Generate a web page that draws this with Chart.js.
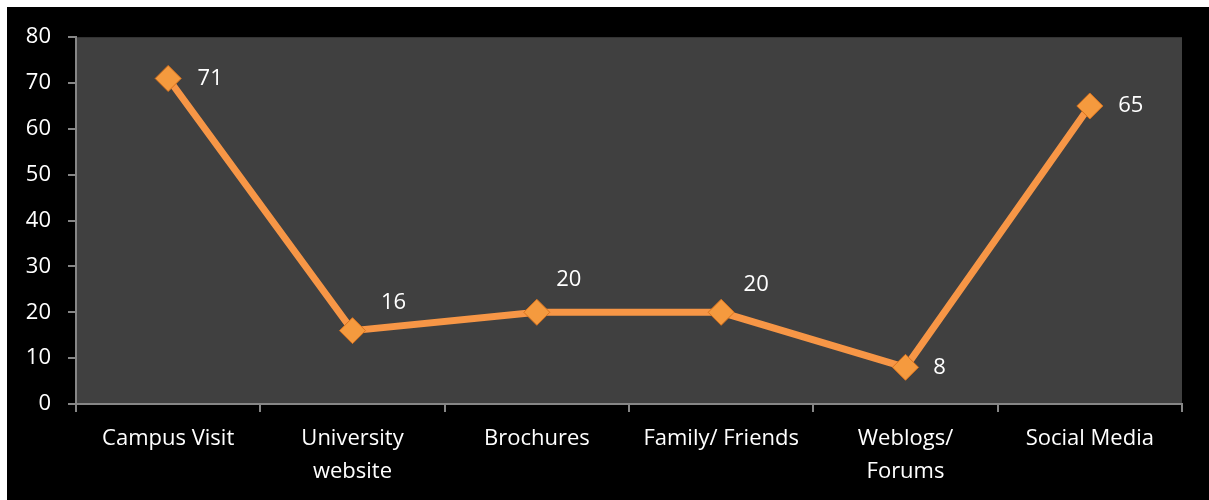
<!DOCTYPE html>
<html>
<head>
<meta charset="utf-8">
<script src="https://cdn.jsdelivr.net/npm/chart.js@4.4.1/dist/chart.umd.min.js"></script>
<style>
    html, body { margin: 0; padding: 0; background: #ffffff; }
    #wrap { position: absolute; left: 7px; top: 7px; width: 1202px; height: 493px; background: #000000; }
    canvas { display: block; }
</style>
</head>
<body>
<div id="wrap"><canvas id="sourceChart" width="1202" height="493"></canvas></div>
<script>
// Chart data
const categories = ["Campus Visit", ["University", "website"], "Brochures", "Family/ Friends", ["Weblogs/", "Forums"], "Social Media"];
const responses = [71, 16, 20, 20, 8, 65];
const yTicks = [0, 10, 20, 30, 40, 50, 60, 70, 80];

// where each value label sits relative to its point
const labelOffsets = [[42, 0], [41, -28], [32, -33], [35, -28], [34, 0], [41, 0]];

const FONT = "'Open Sans', sans-serif";

// dark grey plot background
const plotBackground = {
    id: 'plotBackground',
    beforeDraw(chart) {
        const a = chart.chartArea;
        const ctx = chart.ctx;
        ctx.save();
        ctx.fillStyle = '#404040';
        ctx.fillRect(a.left, a.top, a.right - a.left, a.bottom - a.top);
        ctx.restore();
    }
};

// white value labels next to the markers
const valueLabels = {
    id: 'valueLabels',
    afterDatasetsDraw(chart) {
        const ctx = chart.ctx;
        const meta = chart.getDatasetMeta(0);
        ctx.save();
        ctx.fillStyle = '#ffffff';
        ctx.font = '22px ' + FONT;
        ctx.textAlign = 'center';
        ctx.textBaseline = 'middle';
        meta.data.forEach(function(pt, i) {
            const off = labelOffsets[i];
            ctx.fillText(String(responses[i]), pt.x + off[0], pt.y + off[1]);
        });
        ctx.restore();
    }
};

new Chart(document.getElementById('sourceChart'), {
    type: 'line',
    data: {
        labels: categories,
        datasets: [{
            data: responses,
            borderColor: '#F79646',
            borderWidth: 7,
            tension: 0,
            pointStyle: 'rectRot',
            pointRadius: 13,
            pointBackgroundColor: '#F59A3E',
            pointBorderColor: '#D9731E',
            pointBorderWidth: 1
        }]
    },
    options: {
        responsive: false,
        animation: false,
        layout: {
            padding: { top: 29, right: 27, left: 0, bottom: 0 }
        },
        plugins: {
            legend: { display: false },
            tooltip: { enabled: false }
        },
        scales: {
            x: {
                offset: true,
                grid: {
                    offset: true,
                    drawOnChartArea: false,
                    drawTicks: true,
                    tickLength: 8,
                    color: '#868686',
                    lineWidth: 2
                },
                border: { color: '#868686', width: 2 },
                ticks: {
                    color: '#ffffff',
                    font: { family: FONT, size: 22, lineHeight: 1.5 },
                    padding: 10,
                    maxRotation: 0,
                    autoSkip: false
                },
                afterFit(scale) { scale.height = 96; }
            },
            y: {
                min: 0,
                max: 80,
                afterBuildTicks(scale) {
                    scale.ticks = yTicks.map(v => ({ value: v }));
                },
                grid: {
                    drawOnChartArea: false,
                    drawTicks: true,
                    tickLength: 8,
                    color: '#868686',
                    lineWidth: 2
                },
                border: { color: '#868686', width: 2 },
                ticks: {
                    color: '#ffffff',
                    font: { family: FONT, size: 22 },
                    padding: 17
                },
                afterFit(scale) { scale.width = 69; }
            }
        }
    },
    plugins: [plotBackground, valueLabels]
});
</script>
</body>
</html>
